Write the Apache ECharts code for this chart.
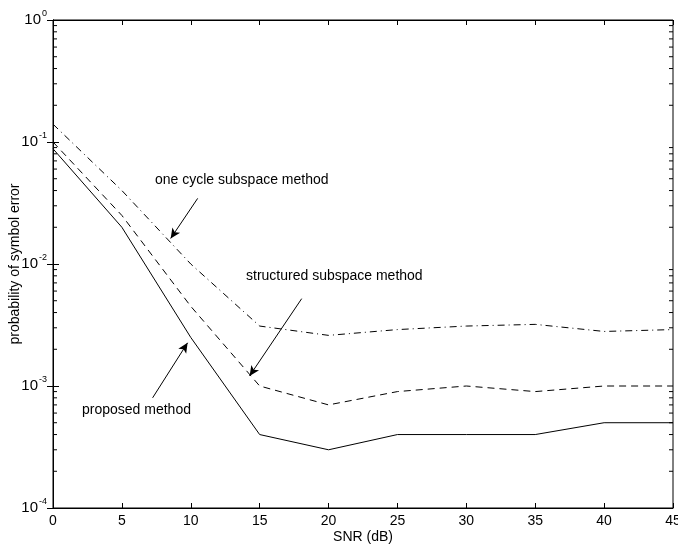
<!DOCTYPE html>
<html>
<head>
<meta charset="utf-8">
<script src="https://cdn.jsdelivr.net/npm/echarts@6/dist/echarts.min.js"></script>
<style>
  html, body { margin: 0; padding: 0; background: #fff; }
  #chart { width: 678px; height: 546px; }
</style>
</head>
<body>
<div id="chart"></div>
<script>
// SNR values (dB)
const snr = [0, 5, 10, 15, 20, 25, 30, 35, 40, 45];
// probability of symbol error
const proposed   = [0.088, 0.020, 0.0025, 0.0004, 0.0003, 0.0004, 0.0004, 0.0004, 0.0005, 0.0005];
const structured = [0.100, 0.025, 0.0045, 0.0010, 0.0007, 0.0009, 0.0010, 0.0009, 0.0010, 0.0010];
const oneCycle   = [0.140, 0.040, 0.0100, 0.0031, 0.0026, 0.0029, 0.0031, 0.0032, 0.0028, 0.0029];
const xTicks = [0, 5, 10, 15, 20, 25, 30, 35, 40, 45];

// minor log ticks 2..9 per decade
const minorVals = [];
for (let e = -4; e < 0; e++) {
    for (let m = 2; m <= 9; m++) minorVals.push(m * Math.pow(10, e));
}

// arrows: [from, to] in data space
const arrows = [
    [[10.5, 0.0345], [8.54, 0.0162]],
    [[18.05, 0.0052], [14.27, 0.00121]],
    [[7.23, 0.0008], [9.77, 0.00226]]
];

const font = 'Liberation Sans, Arial, Helvetica, sans-serif';
const chart = echarts.init(document.getElementById('chart'));

const pair = (xs, ys) => xs.map((x, i) => [x, ys[i]]);

const option = {
    animation: false,
    textStyle: { fontFamily: font },
    grid: {
        left: 53, right: 5, top: 20, bottom: 38,
        containLabel: false, outerBoundsMode: 'none',
        show: true, borderColor: '#000', borderWidth: 1
    },
    xAxis: [{
        type: 'value', min: 0, max: 45, interval: 5,
        name: 'SNR (dB)', nameLocation: 'middle', nameGap: 22, nameMoveOverlap: false,
        nameTextStyle: { color: '#000', fontSize: 14, fontFamily: font },
        axisLine: { show: true, lineStyle: { color: '#000' } },
        axisTick: { inside: true, length: 5, lineStyle: { color: '#000' } },
        axisLabel: { color: '#000', fontSize: 14, margin: 6, fontFamily: font, showMaxLabel: true, showMinLabel: true },
        splitLine: { show: false }
    }, {
        type: 'value', min: 0, max: 45, interval: 5, position: 'top',
        axisLine: { show: true, lineStyle: { color: '#000' } },
        axisTick: { inside: true, length: 5, lineStyle: { color: '#000' } },
        axisLabel: { show: false },
        splitLine: { show: false }
    }],
    yAxis: [{
        type: 'log', logBase: 10, min: 1e-4, max: 1,
        name: 'probability of symbol error', nameLocation: 'middle', nameGap: 31, nameMoveOverlap: false,
        nameTextStyle: { color: '#000', fontSize: 14, fontFamily: font },
        axisLine: { show: true, lineStyle: { color: '#000' } },
        axisTick: { inside: true, length: 6, lineStyle: { color: '#000' } },
        axisLabel: {
            color: '#000', fontSize: 15, margin: 6, fontFamily: font,
            formatter: v => '10{e|' + Math.round(Math.log10(v)) + '}',
            rich: { e: { fontSize: 9, padding: [0, 0, 12, 1], color: '#000', fontFamily: font } }
        },
        splitLine: { show: false }
    }, {
        type: 'log', logBase: 10, min: 1e-4, max: 1, position: 'right',
        axisLine: { show: true, lineStyle: { color: '#000' } },
        axisTick: { inside: true, length: 6, lineStyle: { color: '#000' } },
        axisLabel: { show: false },
        splitLine: { show: false }
    }],
    series: [{
        name: 'proposed method', type: 'line', data: pair(snr, proposed),
        symbol: 'none', lineStyle: { color: '#000', width: 1, type: 'solid' },
        markLine: {
            silent: true, animation: false,
            symbol: ['none', 'arrow'], symbolSize: [7, 10],
            lineStyle: { color: '#000', width: 1, type: 'solid' },
            label: { show: false },
            data: arrows.map(a => [{ coord: a[0] }, { coord: a[1] }])
        }
    }, {
        name: 'structured subspace method', type: 'line', data: pair(snr, structured),
        symbol: 'none', lineStyle: { color: '#000', width: 1, type: [7, 5] }
    }, {
        name: 'one cycle subspace method', type: 'line', data: pair(snr, oneCycle),
        symbol: 'none', lineStyle: { color: '#000', width: 1, type: [7, 4, 1, 4] }
    }, {
        type: 'custom', silent: true,
        data: minorVals.map(v => [0, v]),
        renderItem: (params, api) => {
            const l = api.coord([0, api.value(1)]);
            const r = api.coord([45, api.value(1)]);
            return {
                type: 'group',
                children: [
                    { type: 'line', shape: { x1: l[0], y1: l[1], x2: l[0] + 4, y2: l[1] }, style: { stroke: '#000', lineWidth: 1 } },
                    { type: 'line', shape: { x1: r[0], y1: r[1], x2: r[0] - 4, y2: r[1] }, style: { stroke: '#000', lineWidth: 1 } }
                ]
            };
        }
    }],
    graphic: [
        { type: 'text', left: 155, top: 173, style: { text: 'one cycle subspace method', fill: '#000', font: '14px ' + font } },
        { type: 'text', left: 246, top: 269, style: { text: 'structured subspace method', fill: '#000', font: '14px ' + font } },
        { type: 'text', left: 82, top: 403, style: { text: 'proposed method', fill: '#000', font: '14px ' + font } }
    ]
};

chart.setOption(option);
</script>
</body>
</html>
